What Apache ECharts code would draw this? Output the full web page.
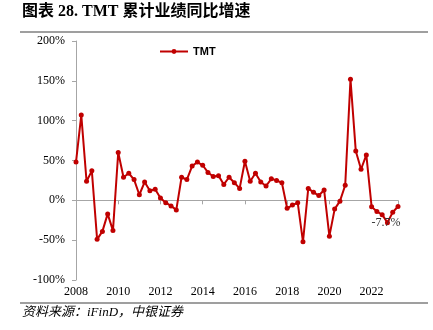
<!DOCTYPE html>
<html>
<head>
<meta charset="utf-8">
<script src="https://cdn.jsdelivr.net/npm/echarts@6/dist/echarts.min.js"></script>
<style>
html,body{margin:0;padding:0;background:#fff;}
#chart{width:433px;height:330px;}
</style>
</head>
<body>
<div id="chart"></div>
<script>
// Quarterly cumulative YoY growth, 2008Q1 .. 2023Q2 (x = year + quarter offset)
const startYear = 2008;
const quarterStep = 0.25;
const tmtValues = [
  48, 107, 24, 37, -49, -39, -17, -38,
  60, 29, 34, 26, 7, 23, 12, 14,
  3, -3, -7, -12, 29, 26, 43, 48,
  44, 35, 30, 31, 20, 29, 22, 15,
  49, 24, 34, 23, 18, 27, 25, 22,
  -10, -6, -3, -52, 15, 10, 6, 13,
  -45, -11, -1, 19, 152, 62, 39, 57,
  -8, -14, -18, -28, -15, -7.7
];
const yTicks = [-100, -50, 0, 50, 100, 150, 200];
const xTickYears = [2008, 2010, 2012, 2014, 2016, 2018, 2020, 2022];
const seriesName = 'TMT';
const lastLabel = '-7.7%';

const data = tmtValues.map((v, i) => [startYear + i * quarterStep, v]);
const xMax = startYear + (tmtValues.length - 1) * quarterStep;

const chart = echarts.init(document.getElementById('chart'), null, {renderer: 'canvas'});
const serif = "'Liberation Serif', 'Times New Roman', 'Noto Sans CJK SC', serif";
const axisGrey = '#a6a6a6';

chart.setOption({
  animation: false,
  backgroundColor: '#fff',
  grid: {left: 76, right: 35, top: 41, bottom: 50},
  legend: {
    data: [seriesName],
    left: 154, top: 41,
    itemWidth: 28, itemHeight: 6,
    textStyle: {fontFamily: "'Liberation Sans Narrow','Liberation Sans', sans-serif", fontSize: 11, color: '#000', fontWeight: 'bold'},
    itemGap: 4
  },
  xAxis: [{
    type: 'value',
    min: startYear, max: xMax, interval: 2,
    axisLine: {show: false, onZero: false},
    axisTick: {show: false},
    splitLine: {show: false},
    axisLabel: {
      showMaxLabel: false,
      fontFamily: serif, fontSize: 12, color: '#000', margin: 6,
      formatter: v => (xTickYears.indexOf(v) >= 0 ? String(v) : '')
    }
  }, {
    type: 'value',
    position: 'bottom',
    min: startYear, max: xMax, interval: 2,
    axisLine: {show: true, onZero: true, lineStyle: {color: axisGrey, width: 1}},
    axisTick: {show: true, length: 4, lineStyle: {color: axisGrey}},
    axisLabel: {show: false},
    splitLine: {show: false}
  }],
  yAxis: {
    type: 'value',
    min: yTicks[0], max: yTicks[yTicks.length - 1], interval: 50,
    axisLine: {show: true, lineStyle: {color: axisGrey, width: 1}},
    axisTick: {show: true, length: 4, lineStyle: {color: axisGrey}},
    splitLine: {show: false},
    axisLabel: {
      fontFamily: serif, fontSize: 12, color: '#000', margin: 11,
      formatter: v => v + '%'
    }
  },
  series: [{
    name: seriesName,
    type: 'line',
    xAxisIndex: 0,
    data: data,
    symbol: 'circle',
    symbolSize: 5,
    color: '#C00000',
    lineStyle: {color: '#C00000', width: 2},
    itemStyle: {color: '#C00000'},
    label: {show: false},
    markPoint: {
      symbol: 'circle', symbolSize: 0,
      data: [{coord: data[data.length - 1], value: lastLabel}],
      label: {
        show: true, position: 'bottom', offset: [-12, 5],
        formatter: lastLabel,
        fontFamily: serif, fontSize: 12, color: '#333'
      }
    }
  }],
  graphic: [
    {type: 'text', left: 22, top: 4, style: {text: '图表 28. TMT 累计业绩同比增速', font: "bold 16px 'Liberation Serif','Noto Sans CJK SC', serif", fill: '#000'}},
    {type: 'line', shape: {x1: 20, y1: 32, x2: 428, y2: 32}, style: {stroke: '#7f7f7f', lineWidth: 1.5}},
    {type: 'line', shape: {x1: 20, y1: 303, x2: 428, y2: 303}, style: {stroke: '#7f7f7f', lineWidth: 1.5}},
    {type: 'text', left: 22, top: 306, style: {text: '资料来源：iFinD，中银证券', font: "italic 13px 'Liberation Serif','Noto Sans CJK SC', serif", fill: '#000'}}
  ]
});
</script>
</body>
</html>
